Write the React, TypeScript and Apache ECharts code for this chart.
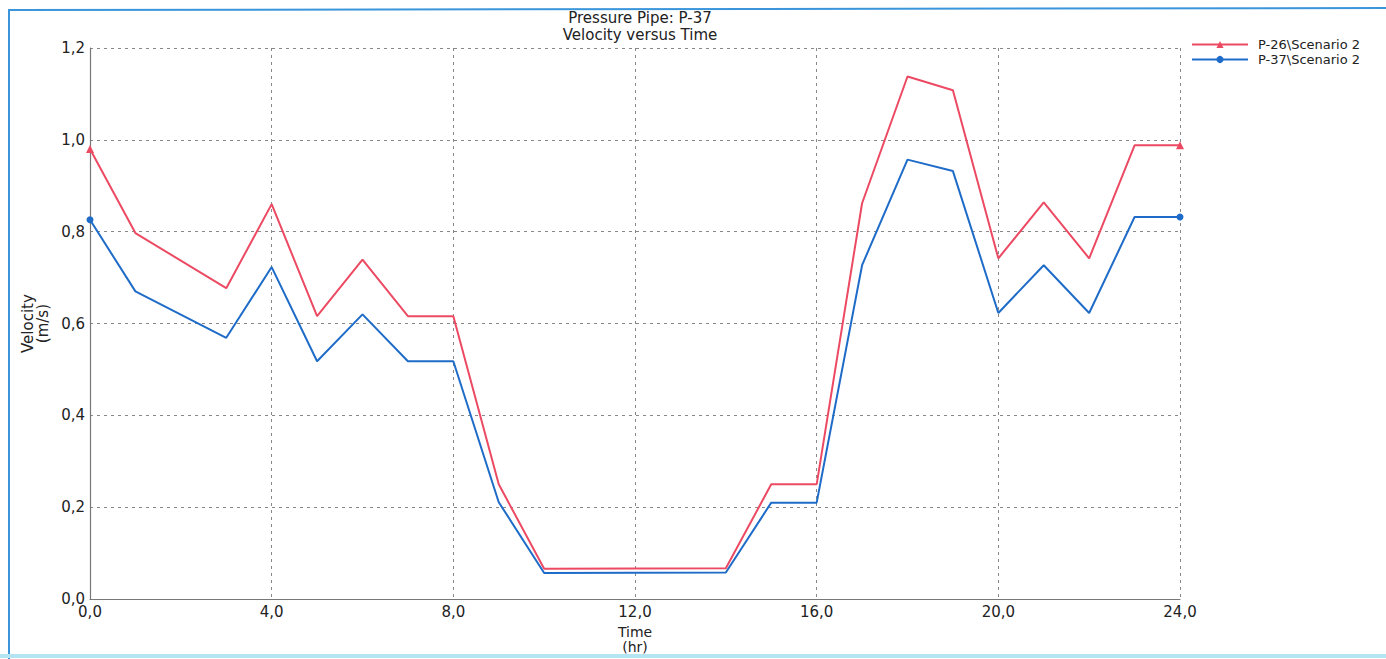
import React, { useEffect, useRef } from "react";
import * as echarts from "echarts";

const titleLines = ["Pressure Pipe: P-37", "Velocity versus Time"];
const seriesNames = ["P-26\\Scenario 2", "P-37\\Scenario 2"];
const timesHr = [0, 1, 3, 4, 5, 6, 7, 8, 9, 10, 14, 15, 16, 17, 18, 19, 20, 21, 22, 23, 24];
const p26Velocity = [0.98, 0.797, 0.677, 0.86, 0.616, 0.739, 0.616, 0.616, 0.25, 0.066, 0.067, 0.25, 0.25, 0.862, 1.138, 1.108, 0.742, 0.864, 0.742, 0.988, 0.988];
const p37Velocity = [0.826, 0.67, 0.569, 0.723, 0.518, 0.62, 0.518, 0.518, 0.211, 0.057, 0.058, 0.21, 0.21, 0.727, 0.957, 0.932, 0.623, 0.727, 0.623, 0.832, 0.832];

const RED = "#ec4a63";
const BLUE = "#1f6cc8";
const FONT = "DejaVu Sans";

const fmt = (v: number) => v.toFixed(1).replace(".", ",");

function buildData(values: number[]) {
  return values.map((v, i) => {
    const end = i === 0 || i === values.length - 1;
    return end ? { value: [timesHr[i], v] } : { value: [timesHr[i], v], symbol: "none" };
  });
}

export default function App() {
  const ref = useRef<HTMLDivElement>(null);
  useEffect(() => {
    document.body.style.margin = "0";
    const chart = echarts.init(ref.current!, null, { renderer: "svg" });
    chart.setOption({
      animation: false,
      backgroundColor: "#ffffff",
      textStyle: { fontFamily: FONT },
      title: {
        text: titleLines.join("\n"),
        left: 635,
        top: 4,
        textAlign: "center",
        textStyle: { fontFamily: FONT, fontSize: 15, fontWeight: "normal", color: "#222", lineHeight: 17 },
      },
      legend: {
        orient: "vertical",
        left: 1191,
        top: 37,
        padding: 0,
        itemGap: 0,
        itemWidth: 56,
        itemHeight: 9,
        textStyle: { fontFamily: FONT, fontSize: 13, color: "#222", lineHeight: 15, padding: [0, 0, 0, 5] },
        data: seriesNames,
      },
      grid: { left: 90, right: 206, top: 48, bottom: 57, containLabel: false },
      xAxis: {
        type: "value",
        min: 0,
        max: 24,
        interval: 4,
        name: "Time\n(hr)",
        nameLocation: "middle",
        nameGap: 22,
        nameTextStyle: { fontFamily: FONT, fontSize: 14, color: "#222", lineHeight: 15 },
        axisLine: { show: true, lineStyle: { color: "#777", width: 1.2 } },
        axisTick: { show: false },
        axisLabel: { formatter: fmt, fontFamily: FONT, fontSize: 15, color: "#222", margin: 5 },
        splitLine: { show: true, lineStyle: { color: "#888", type: [3, 4], width: 1 } },
      },
      yAxis: {
        type: "value",
        min: 0,
        max: 1.2,
        interval: 0.2,
        name: "Velocity\n(m/s)",
        nameLocation: "middle",
        nameGap: 36,
        nameRotate: 90,
        nameTextStyle: { fontFamily: FONT, fontSize: 15, color: "#222", lineHeight: 15 },
        axisLine: { show: true, lineStyle: { color: "#777", width: 1.2 } },
        axisTick: { show: false },
        axisLabel: { formatter: fmt, fontFamily: FONT, fontSize: 15, color: "#222", margin: 5 },
        splitLine: { show: true, lineStyle: { color: "#888", type: [3, 4], width: 1 } },
      },
      series: [
        {
          name: seriesNames[0],
          type: "line",
          symbol: "triangle",
          symbolSize: 8,
          showAllSymbol: true,
          lineStyle: { color: RED, width: 2 },
          itemStyle: { color: RED },
          data: buildData(p26Velocity),
          z: 3,
        },
        {
          name: seriesNames[1],
          type: "line",
          symbol: "circle",
          symbolSize: 7,
          showAllSymbol: true,
          lineStyle: { color: BLUE, width: 2 },
          itemStyle: { color: BLUE },
          data: buildData(p37Velocity),
          z: 4,
        },
      ],
      graphic: [
        {
          type: "polyline",
          shape: { points: [[9, 659], [9, 10], [1386, 8]] },
          style: { stroke: "#3b95db", lineWidth: 2, fill: "none" },
          silent: true,
        },
        {
          type: "line",
          shape: { x1: 0, y1: 656, x2: 1386, y2: 656 },
          style: { stroke: "#b5e4f2", lineWidth: 4 },
          silent: true,
        },
      ],
    });
    return () => chart.dispose();
  }, []);
  return <div ref={ref} style={{ position: "absolute", left: 0, top: 0, width: 1386, height: 659 }} />;
}
